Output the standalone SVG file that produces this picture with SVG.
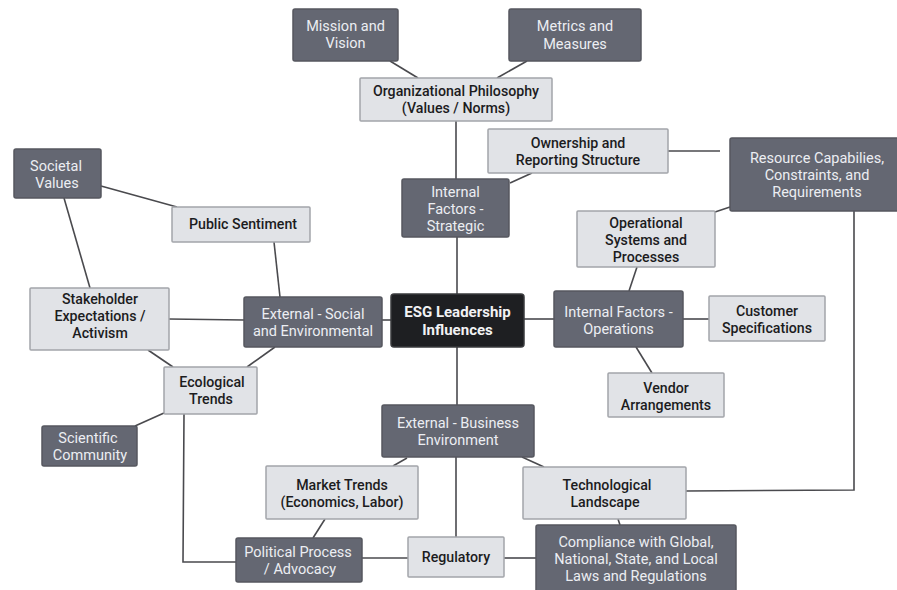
<svg xmlns="http://www.w3.org/2000/svg" width="897" height="590" viewBox="0 0 897 590">
<style>
.d rect{fill:#646772;stroke:#55575f;stroke-width:1.5}
.l rect{fill:#e1e3e7;stroke:#a3a5aa;stroke-width:1.5}
.k rect{fill:#1e1f22;stroke:#3a3b3e;stroke-width:1.5}
text{font-family:Roboto,"Liberation Sans",sans-serif;font-size:14.2px;text-anchor:middle}
.d text{fill:#eceef2;font-size:14.5px}
.l text{fill:#1c1c1e;font-weight:500}
.k text{fill:#f2f2f4;font-weight:700;font-size:15px}
#edges{stroke:#4a4a4e;stroke-width:1.6;fill:none}
</style>
<rect width="897" height="590" fill="#ffffff"/>
<g id="edges">
<line x1="390" y1="61" x2="418" y2="78"/>
<line x1="527" y1="61" x2="497" y2="78"/>
<line x1="456" y1="121" x2="456" y2="179"/>
<line x1="457" y1="237" x2="457" y2="294"/>
<line x1="532" y1="173" x2="510" y2="183"/>
<line x1="668" y1="151" x2="720" y2="151"/>
<line x1="715" y1="212" x2="730" y2="207"/>
<line x1="637" y1="267" x2="629" y2="291"/>
<line x1="524" y1="319" x2="554" y2="319"/>
<line x1="683" y1="319" x2="709" y2="319"/>
<line x1="636" y1="347" x2="652" y2="373"/>
<polyline points="854,211 854,490 686,491"/>
<line x1="457" y1="347" x2="457" y2="405"/>
<line x1="522" y1="457" x2="544" y2="467"/>
<line x1="618" y1="519" x2="620" y2="525"/>
<line x1="456" y1="457" x2="456" y2="537"/>
<line x1="504" y1="558" x2="536" y2="558"/>
<line x1="362" y1="558" x2="408" y2="558"/>
<line x1="407" y1="458" x2="393" y2="466"/>
<line x1="325" y1="519" x2="313" y2="538"/>
<polyline points="184,414 183,562 236,562"/>
<line x1="164" y1="413" x2="135" y2="426"/>
<line x1="169" y1="319" x2="244" y2="320"/>
<line x1="382" y1="320" x2="391" y2="320"/>
<line x1="148" y1="350" x2="173" y2="367"/>
<line x1="275" y1="347" x2="247" y2="367"/>
<line x1="274" y1="242" x2="280" y2="297"/>
<line x1="101" y1="186" x2="177" y2="207"/>
<line x1="64" y1="198" x2="90" y2="288"/>
</g>
<g id="mission" class="d"><rect x="293" y="9" width="105" height="52" rx="2"/><text x="345.5" y="31">Mission and</text><text x="345.5" y="48">Vision</text></g>
<g id="metrics" class="d"><rect x="509" y="9" width="132" height="52" rx="2"/><text x="575" y="31">Metrics and</text><text x="575" y="49">Measures</text></g>
<g id="orgphil" class="l"><rect x="360" y="78" width="192" height="43" rx="1"/><text x="456" y="96">Organizational Philosophy</text><text x="456" y="113">(Values / Norms)</text></g>
<g id="ownership" class="l"><rect x="488" y="129" width="180" height="44" rx="1"/><text x="578" y="148">Ownership and</text><text x="578" y="165">Reporting Structure</text></g>
<g id="resource" class="d"><rect x="730" y="138" width="180" height="73" rx="2"/><text x="817" y="163">Resource Capabilies,</text><text x="817" y="180">Constraints, and</text><text x="817" y="197">Requirements</text></g>
<g id="strategic" class="d"><rect x="402" y="179" width="107" height="58" rx="2"/><text x="455.5" y="197">Internal</text><text x="455.5" y="214">Factors -</text><text x="455.5" y="231">Strategic</text></g>
<g id="opsys" class="l"><rect x="577" y="211" width="138" height="56" rx="1"/><text x="646" y="228">Operational</text><text x="646" y="245">Systems and</text><text x="646" y="262">Processes</text></g>
<g id="societal" class="d"><rect x="14" y="149" width="87" height="49" rx="2"/><text x="56" y="171">Societal</text><text x="57" y="188">Values</text></g>
<g id="public" class="l"><rect x="172" y="207" width="138" height="35" rx="1"/><text x="243" y="229">Public Sentiment</text></g>
<g id="stakeholder" class="l"><rect x="30" y="288" width="139" height="62" rx="1"/><text x="100" y="304">Stakeholder</text><text x="100" y="321">Expectations /</text><text x="100" y="338">Activism</text></g>
<g id="extsocial" class="d"><rect x="244" y="297" width="138" height="50" rx="2"/><text x="313" y="319">External - Social</text><text x="313" y="336">and Environmental</text></g>
<g id="esg" class="k"><rect x="391" y="294" width="133" height="53" rx="3"/><text x="457.5" y="317">ESG Leadership</text><text x="457.5" y="335">Influences</text></g>
<g id="intops" class="d"><rect x="554" y="291" width="129" height="56" rx="2"/><text x="618.5" y="317">Internal Factors -</text><text x="618.5" y="334">Operations</text></g>
<g id="customer" class="l"><rect x="709" y="296" width="116" height="45" rx="1"/><text x="767" y="316">Customer</text><text x="767" y="333">Specifications</text></g>
<g id="vendor" class="l"><rect x="608" y="373" width="116" height="44" rx="1"/><text x="666" y="393">Vendor</text><text x="666" y="410">Arrangements</text></g>
<g id="ecological" class="l"><rect x="164" y="367" width="93" height="47" rx="1"/><text x="212" y="387">Ecological</text><text x="211" y="404">Trends</text></g>
<g id="scientific" class="d"><rect x="42" y="426" width="95" height="40" rx="2"/><text x="88" y="443">Scientific</text><text x="90" y="460">Community</text></g>
<g id="extbus" class="d"><rect x="382" y="405" width="152" height="52" rx="2"/><text x="458" y="428">External - Business</text><text x="458" y="445">Environment</text></g>
<g id="market" class="l"><rect x="266" y="466" width="152" height="53" rx="1"/><text x="342" y="490">Market Trends</text><text x="342" y="507">(Economics, Labor)</text></g>
<g id="tech" class="l"><rect x="523" y="467" width="163" height="52" rx="1"/><text x="607" y="490">Technological</text><text x="605" y="507">Landscape</text></g>
<g id="political" class="d"><rect x="236" y="538" width="126" height="44" rx="2"/><text x="298" y="557">Political Process</text><text x="300" y="574">/ Advocacy</text></g>
<g id="regulatory" class="l"><rect x="408" y="537" width="96" height="40" rx="1"/><text x="456" y="562">Regulatory</text></g>
<g id="compliance" class="d"><rect x="536" y="525" width="200" height="68" rx="2"/><text x="636" y="547">Compliance with Global,</text><text x="636" y="564">National, State, and Local</text><text x="636" y="581">Laws and Regulations</text></g>
</svg>
